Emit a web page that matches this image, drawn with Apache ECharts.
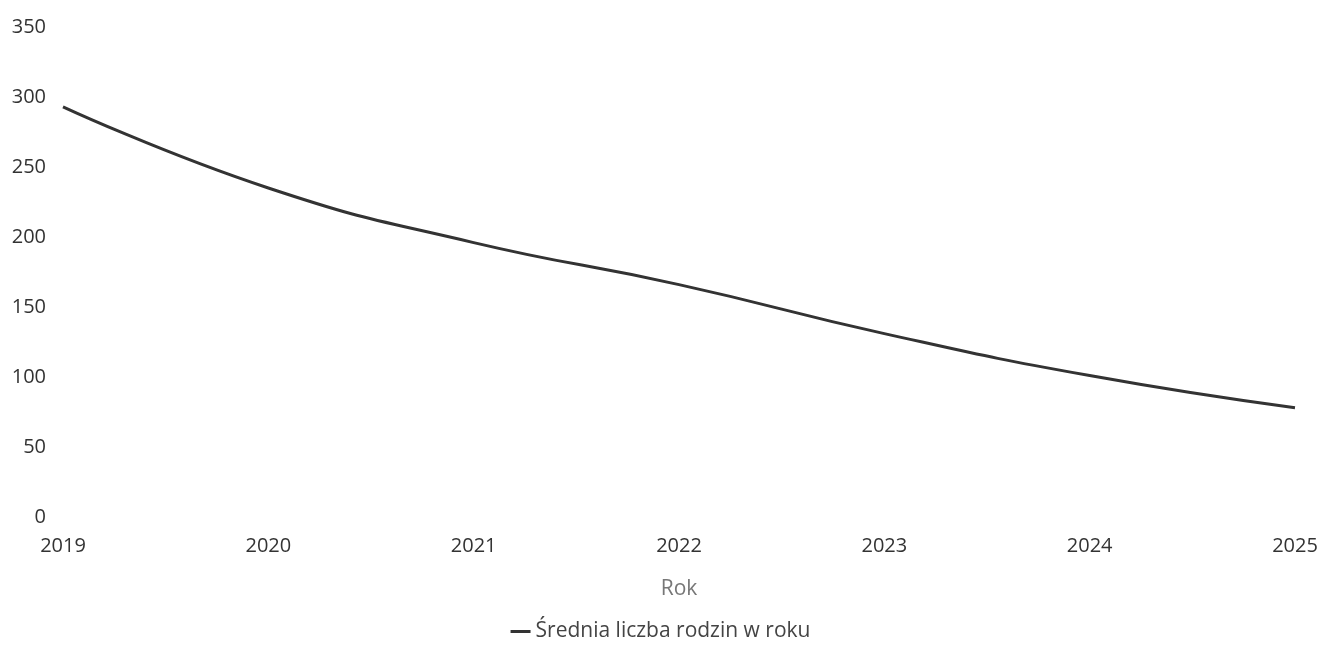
<!DOCTYPE html>
<html>
<head>
<meta charset="utf-8">
<script src="https://cdn.jsdelivr.net/npm/echarts@6/dist/echarts.min.js"></script>
<style>
html,body{margin:0;padding:0;background:#fff;}
#chart{width:1321px;height:650px;}
</style>
</head>
<body>
<div id="chart"></div>
<script>
const years = ['2019','2020','2021','2022','2023','2024','2025'];
const averageFamilies = [293, 235, 196, 166, 131, 101, 78];
const seriesName = 'Średnia liczba rodzin w roku';
const xAxisTitle = 'Rok';

const chart = echarts.init(document.getElementById('chart'));
chart.setOption({
  animation: false,
  textStyle: { fontFamily: 'Open Sans' },
  grid: { left: 63, right: 26, top: 27, bottom: 133, containLabel: false },
  legend: {
    bottom: 3,
    left: 'center',
    itemWidth: 20,
    itemHeight: 3,
    itemGap: 10,
    icon: 'rect',
    textStyle: { fontSize: 21, color: '#444', fontFamily: 'Open Sans' },
    data: [seriesName]
  },
  xAxis: {
    type: 'category',
    data: years,
    boundaryGap: false,
    name: xAxisTitle,
    nameLocation: 'middle',
    nameGap: 62,
    nameTextStyle: { fontSize: 21, color: '#777', fontFamily: 'Open Sans' },
    axisLine: { show: false },
    axisTick: { show: false },
    axisLabel: { color: '#333', fontSize: 20, margin: 19, fontFamily: 'Open Sans' },
    splitLine: { show: false }
  },
  yAxis: {
    type: 'value',
    min: 0,
    max: 350,
    interval: 50,
    axisLine: { show: false },
    axisTick: { show: false },
    axisLabel: { color: '#333', fontSize: 20, margin: 17, fontFamily: 'Open Sans' },
    splitLine: { show: false }
  },
  series: [{
    name: seriesName,
    type: 'line',
    data: averageFamilies,
    smooth: true,
    showSymbol: false,
    lineStyle: { color: '#333', width: 3 },
    itemStyle: { color: '#333' }
  }]
});
</script>
</body>
</html>
